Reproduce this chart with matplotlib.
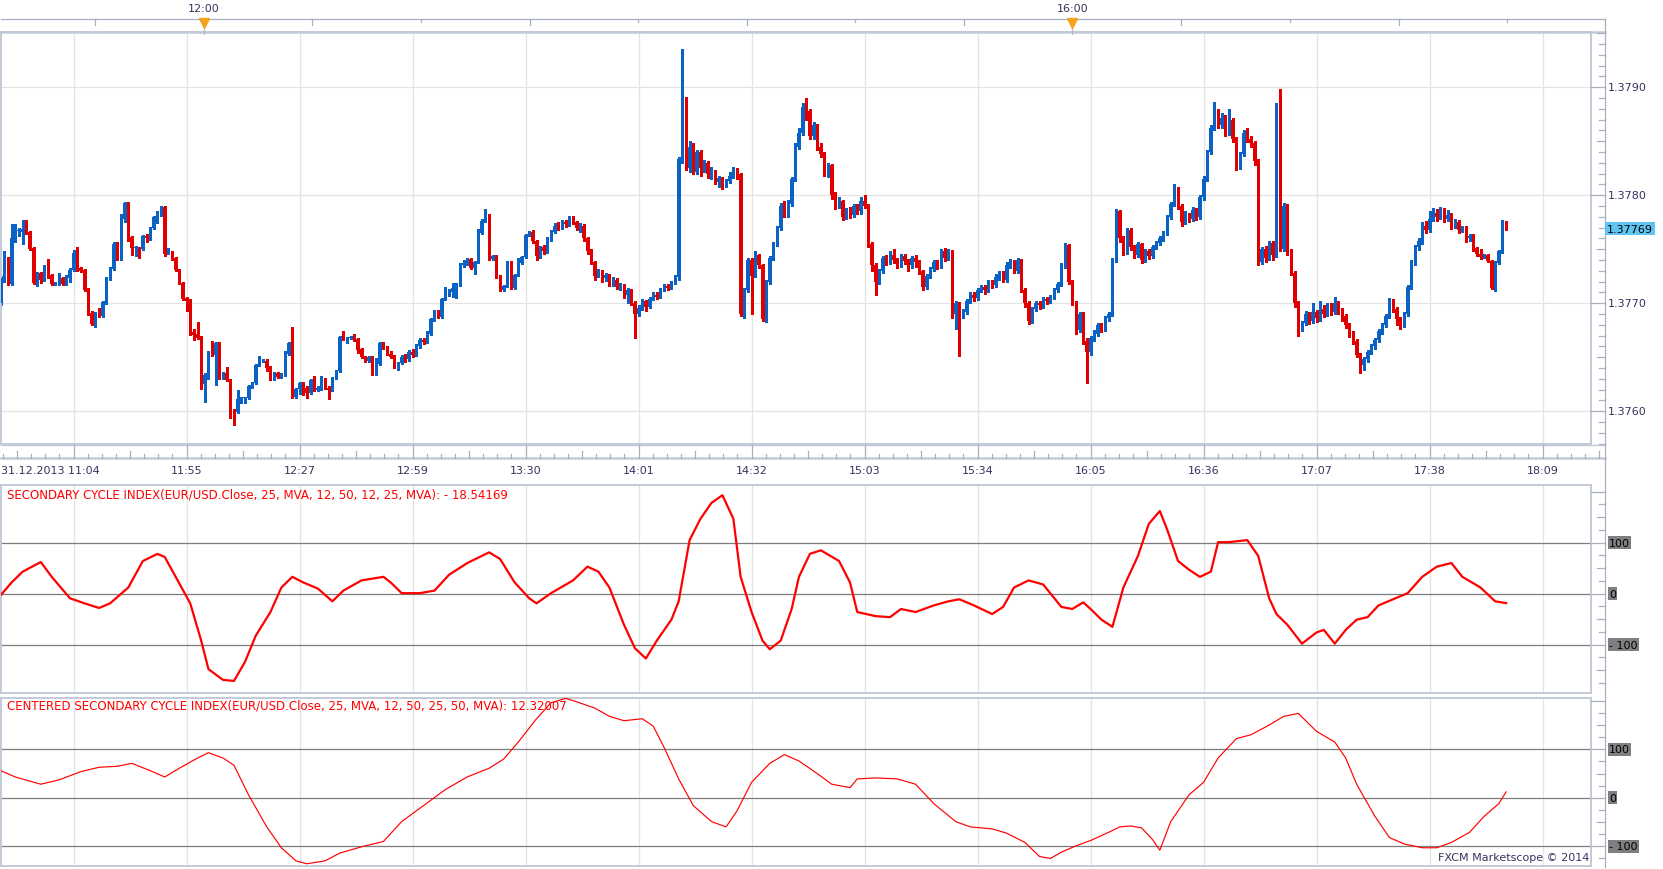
"""EUR/USD 1-minute candles with two cycle-index panels (Marketscope style)."""
import numpy as np
import matplotlib
matplotlib.use("Agg")
import matplotlib.pyplot as plt
from matplotlib.transforms import blended_transform_factory

# ---- data: prices in 1e-5 steps above 1.37000 ----
open_pts = [
    700, 722, 742, 718, 760, 767, 766, 769, 766, 751, 719, 728, 722, 733, 726, 718, 718, 723, 718, 723,
    731, 747, 733, 731, 713, 691, 681, 691, 688, 700, 723, 732, 755, 741, 778, 793, 761, 751, 751, 750,
    762, 760, 770, 779, 782, 789, 747, 747, 742, 731, 719, 705, 703, 673, 672, 669, 625, 634, 655, 652,
    663, 631, 635, 629, 600, 599, 611, 612, 612, 623, 626, 643, 647, 647, 641, 630, 635, 632, 634, 653,
    663, 613, 621, 626, 622, 617, 629, 620, 621, 630, 622, 620, 631, 637, 669, 667, 668, 669, 667, 658,
    650, 647, 650, 635, 644, 663, 659, 653, 651, 641, 645, 650, 648, 655, 652, 660, 666, 664, 672, 685,
    693, 687, 704, 708, 710, 713, 717, 735, 736, 741, 733, 738, 765, 776, 782, 741, 744, 725, 712, 716,
    738, 714, 726, 737, 743, 763, 766, 758, 744, 752, 748, 760, 766, 772, 770, 775, 773, 778, 775, 770,
    772, 760, 748, 738, 725, 730, 723, 726, 718, 722, 715, 717, 708, 712, 700, 690, 696, 702, 697, 704,
    708, 706, 712, 716, 714, 719, 724, 834, 890, 825, 845, 822, 840, 825, 830, 820, 822, 812, 816, 810,
    813, 818, 824, 820, 690, 712, 740, 725, 745, 735, 685, 720, 742, 755, 770, 790, 782, 792, 815, 845,
    858, 882, 878, 855, 865, 845, 838, 820, 828, 800, 790, 795, 780, 786, 782, 790, 785, 795, 790, 755,
    735, 720, 730, 742, 738, 745, 740, 736, 744, 739, 735, 742, 738, 730, 715, 725, 732, 738, 735, 748,
    742, 748, 690, 700, 690, 692, 702, 708, 705, 712, 715, 712, 720, 717, 724, 728, 722, 735, 738, 730,
    740, 712, 700, 684, 695, 700, 698, 704, 702, 706, 712, 718, 735, 754, 720, 700, 675, 690, 665, 655,
    668, 672, 680, 676, 686, 690, 740, 785, 760, 748, 768, 752, 745, 755, 740, 748, 744, 752, 756, 760,
    765, 780, 792, 806, 790, 775, 782, 778, 786, 780, 798, 815, 840, 862, 878, 865, 872, 858, 870, 852,
    826, 838, 858, 852, 848, 832, 738, 750, 742, 756, 745, 880, 750, 790, 748, 728, 700, 676, 682, 690,
    684, 692, 686, 695, 690, 698, 692, 700, 694, 688, 680, 672, 665, 652, 643, 648, 655, 660, 666, 674,
    680, 688, 702, 695, 685, 680, 690, 715, 738, 752, 758, 772, 768, 778, 784, 780, 786, 778, 782, 772,
    775, 768, 770, 760, 762, 751, 746, 743, 745, 739, 713, 737, 748, 775,
]
close_pts = [
    723, 742, 718, 760, 767, 768, 769, 765, 750, 719, 728, 722, 733, 725, 718, 719, 723, 718, 725, 731,
    747, 731, 730, 712, 690, 681, 691, 688, 701, 723, 733, 755, 741, 779, 793, 761, 751, 752, 749, 762,
    760, 770, 780, 782, 789, 746, 748, 741, 731, 719, 704, 702, 672, 671, 668, 625, 634, 655, 652, 663,
    631, 635, 629, 599, 599, 611, 612, 612, 623, 626, 643, 647, 647, 640, 630, 635, 632, 634, 654, 663,
    613, 621, 626, 620, 617, 629, 620, 622, 630, 622, 620, 631, 637, 669, 667, 668, 669, 666, 657, 650,
    647, 650, 635, 644, 663, 659, 653, 650, 641, 645, 650, 648, 655, 652, 660, 666, 664, 672, 685, 693,
    687, 704, 709, 712, 714, 718, 736, 737, 741, 733, 738, 765, 776, 782, 741, 744, 724, 712, 716, 738,
    714, 726, 737, 743, 763, 766, 758, 744, 752, 748, 760, 766, 772, 770, 775, 773, 778, 775, 770, 772,
    760, 748, 738, 725, 730, 723, 726, 718, 722, 715, 717, 708, 712, 700, 690, 696, 702, 697, 704, 708,
    706, 712, 716, 714, 719, 724, 834, 888, 825, 845, 822, 840, 825, 830, 820, 822, 812, 816, 810, 813,
    818, 824, 820, 690, 712, 740, 725, 745, 735, 685, 720, 742, 755, 770, 790, 782, 792, 815, 845, 858,
    882, 878, 855, 865, 845, 838, 820, 828, 800, 790, 795, 780, 786, 782, 790, 785, 795, 790, 755, 735,
    720, 730, 742, 738, 745, 740, 736, 744, 739, 735, 742, 738, 730, 715, 725, 732, 738, 735, 748, 742,
    748, 690, 700, 690, 692, 702, 708, 705, 712, 715, 712, 720, 717, 724, 728, 722, 735, 738, 730, 740,
    712, 700, 684, 695, 700, 698, 704, 702, 706, 712, 718, 735, 754, 720, 700, 675, 690, 665, 655, 668,
    672, 680, 676, 686, 690, 740, 785, 760, 748, 768, 752, 745, 755, 740, 748, 744, 752, 756, 760, 765,
    780, 792, 806, 790, 775, 782, 778, 786, 780, 798, 815, 840, 862, 878, 865, 872, 858, 870, 852, 826,
    838, 858, 852, 848, 832, 738, 750, 742, 756, 745, 880, 750, 790, 748, 728, 700, 676, 682, 690, 684,
    692, 686, 695, 690, 698, 692, 700, 694, 688, 680, 672, 665, 652, 643, 648, 655, 660, 666, 674, 680,
    688, 702, 695, 685, 680, 690, 715, 738, 752, 758, 772, 768, 778, 784, 780, 786, 778, 782, 772, 775,
    768, 770, 760, 762, 751, 746, 743, 745, 739, 714, 738, 748, 775, 769,
]
high_pts = [
    725, 748, 743, 773, 773, 770, 777, 777, 767, 752, 729, 729, 735, 741, 727, 720, 728, 724, 726, 733,
    749, 752, 734, 732, 714, 693, 692, 696, 702, 724, 734, 757, 757, 783, 794, 794, 762, 753, 752, 763,
    764, 771, 781, 785, 790, 790, 751, 748, 743, 732, 720, 706, 704, 676, 683, 670, 635, 656, 665, 664,
    664, 636, 641, 630, 602, 620, 613, 613, 624, 627, 644, 651, 648, 648, 642, 636, 636, 635, 656, 664,
    678, 622, 627, 627, 623, 630, 633, 623, 633, 631, 623, 632, 638, 670, 674, 669, 670, 672, 668, 659,
    651, 651, 651, 649, 664, 664, 660, 656, 652, 646, 652, 653, 657, 658, 662, 668, 668, 674, 686, 694,
    694, 705, 715, 713, 719, 719, 737, 740, 742, 742, 739, 769, 778, 787, 783, 745, 745, 726, 717, 739,
    739, 727, 742, 744, 764, 767, 768, 759, 753, 754, 761, 768, 774, 775, 777, 777, 781, 781, 776, 774,
    773, 761, 750, 739, 732, 731, 728, 727, 724, 723, 719, 718, 714, 713, 702, 698, 704, 703, 706, 710,
    710, 714, 718, 718, 721, 726, 835, 935, 891, 850, 848, 842, 842, 833, 832, 826, 823, 818, 817, 815,
    822, 826, 825, 821, 714, 742, 742, 748, 746, 736, 722, 744, 757, 772, 793, 795, 796, 817, 848, 862,
    885, 890, 880, 868, 866, 848, 840, 830, 829, 803, 798, 796, 788, 789, 792, 792, 798, 800, 792, 757,
    737, 732, 744, 745, 748, 750, 742, 746, 746, 741, 744, 745, 740, 731, 727, 734, 740, 740, 750, 751,
    750, 749, 702, 701, 695, 704, 710, 710, 714, 717, 717, 722, 722, 727, 730, 730, 738, 741, 740, 742,
    741, 714, 702, 697, 702, 702, 706, 706, 708, 714, 720, 737, 756, 755, 722, 702, 692, 692, 668, 670,
    675, 682, 682, 688, 692, 742, 787, 786, 762, 770, 770, 754, 757, 756, 750, 750, 754, 758, 762, 767,
    782, 794, 810, 808, 792, 785, 784, 789, 788, 800, 818, 842, 865, 886, 880, 876, 874, 880, 872, 854,
    840, 860, 862, 855, 850, 834, 752, 753, 758, 758, 885, 898, 793, 792, 750, 730, 702, 684, 693, 692,
    700, 694, 702, 698, 700, 700, 706, 702, 696, 690, 682, 674, 667, 654, 650, 657, 662, 668, 676, 682,
    690, 705, 704, 697, 687, 692, 717, 740, 754, 760, 775, 776, 785, 788, 787, 789, 788, 786, 784, 778,
    777, 772, 772, 764, 764, 752, 750, 746, 746, 740, 739, 749, 777, 776,
]
low_pts = [
    698, 720, 717, 717, 757, 762, 755, 764, 749, 718, 716, 719, 721, 723, 717, 717, 717, 717, 717, 720,
    730, 730, 729, 711, 689, 680, 678, 687, 687, 699, 722, 731, 740, 740, 775, 758, 745, 744, 742, 749,
    757, 759, 769, 774, 781, 744, 746, 740, 730, 718, 703, 693, 671, 666, 667, 621, 609, 630, 651, 624,
    630, 630, 628, 594, 587, 598, 608, 608, 611, 622, 625, 642, 646, 637, 629, 629, 631, 631, 633, 652,
    612, 612, 616, 615, 612, 616, 619, 619, 620, 621, 611, 619, 630, 636, 666, 663, 667, 665, 654, 649,
    646, 646, 634, 634, 643, 658, 652, 649, 640, 638, 644, 646, 647, 650, 651, 659, 662, 663, 671, 684,
    686, 686, 703, 707, 706, 705, 716, 734, 735, 732, 727, 737, 764, 775, 740, 740, 723, 711, 711, 715,
    713, 713, 725, 736, 742, 762, 756, 740, 742, 746, 747, 758, 765, 768, 769, 771, 772, 773, 768, 766,
    758, 746, 736, 722, 724, 720, 721, 716, 716, 713, 712, 705, 700, 698, 668, 688, 694, 693, 696, 703,
    704, 705, 711, 712, 713, 718, 722, 830, 823, 822, 820, 820, 818, 822, 816, 815, 810, 808, 806, 808,
    811, 816, 815, 688, 686, 710, 690, 724, 733, 684, 683, 718, 740, 753, 768, 780, 780, 790, 813, 843,
    856, 870, 852, 852, 842, 835, 818, 817, 797, 787, 788, 777, 778, 779, 780, 783, 783, 788, 752, 730,
    708, 718, 728, 735, 736, 737, 733, 734, 736, 730, 733, 734, 727, 712, 713, 723, 730, 732, 733, 739,
    740, 686, 676, 651, 686, 690, 700, 702, 703, 710, 709, 710, 714, 715, 722, 720, 720, 733, 728, 728,
    710, 697, 681, 682, 693, 695, 696, 699, 700, 704, 710, 716, 733, 718, 698, 672, 673, 662, 626, 652,
    665, 670, 673, 674, 684, 688, 738, 757, 745, 746, 749, 742, 743, 737, 738, 741, 742, 750, 754, 758,
    763, 778, 790, 787, 772, 773, 775, 776, 777, 778, 796, 813, 838, 860, 862, 862, 855, 856, 849, 823,
    824, 836, 849, 845, 828, 735, 736, 738, 740, 740, 743, 748, 748, 745, 726, 697, 670, 674, 680, 681,
    682, 683, 684, 687, 688, 689, 690, 690, 684, 677, 669, 662, 650, 635, 638, 646, 653, 658, 664, 672,
    678, 686, 692, 680, 676, 678, 688, 713, 735, 749, 755, 765, 766, 776, 776, 778, 775, 776, 769, 770,
    765, 766, 757, 758, 748, 744, 741, 742, 738, 713, 711, 736, 747, 768,
]

# secondary cycle index (thick line), sampled by candle index
sci_idx = [0, 3, 6, 11, 14, 19, 23, 27, 30, 35, 39, 43, 45, 48, 52, 55, 57, 61, 64, 67, 70, 74, 77, 80, 83,
           87, 91, 94, 99, 105, 107, 110, 115, 119, 123, 128, 134, 137, 141, 145, 147, 151, 157, 161, 164,
           167, 171, 174, 177, 180, 184, 186, 189, 192, 195, 198, 201, 203, 206, 209, 211, 214, 217, 219,
           222, 225, 230, 233, 235, 240, 244, 247, 251, 256, 260, 263, 267, 272, 275, 278, 282, 286, 291,
           294, 297, 299, 302, 305, 308, 312, 315, 318, 320, 323, 326, 329, 332, 334, 337, 342, 345, 348,
           350, 353, 357, 361, 363, 366, 369, 372, 375, 378, 382, 386, 390, 394, 398, 401, 406, 410, 413]
sci_val = [-3, 22, 43, 62, 33, -9, -19, -28, -19, 12, 64, 78, 72, 33, -19, -92, -148, -169, -171, -134,
           -82, -36, 12, 33, 22, 10, -15, 6, 26, 33, 22, 1, 1, 6, 37, 60, 81, 68, 22, -9, -19, 1, 26, 53,
           43, 12, -61, -107, -127, -92, -51, -15, 105, 147, 178, 193, 147, 33, -36, -92, -109, -92, -30,
           33, 78, 85, 64, 22, -36, -44, -46, -30, -36, -23, -15, -11, -23, -40, -26, 12, 26, 18, -26,
           -30, -17, -30, -51, -65, 12, 74, 137, 162, 126, 64, 47, 33, 43, 101, 101, 105, 74, -9, -40,
           -61, -98, -76, -71, -98, -71, -51, -46, -23, -11, 1, 33, 53, 60, 33, 12, -15, -18.54169]

# centered secondary cycle index (thin line)
csci_idx = [0, 4, 11, 16, 22, 27, 32, 36, 41, 45, 49, 54, 57, 61, 64, 68, 73, 77, 81, 84, 89, 93, 99, 105,
            110, 116, 122, 128, 134, 138, 142, 147, 151, 155, 158, 163, 167, 171, 176, 179, 182, 186, 190,
            195, 199, 202, 206, 211, 215, 219, 224, 228, 233, 235, 240, 246, 251, 256, 262, 266, 272, 276,
            281, 285, 288, 291, 295, 299, 304, 307, 310, 313, 316, 318, 321, 326, 330, 334, 339, 343, 348,
            352, 356, 361, 366, 369, 372, 377, 381, 385, 390, 394, 398, 403, 407, 411, 413]
csci_val = [56, 43, 28, 37, 54, 63, 65, 71, 56, 43, 61, 82, 93, 82, 67, 6, -60, -103, -130, -136, -130,
            -114, -101, -90, -49, -16, 17, 43, 61, 80, 115, 163, 196, 205, 198, 185, 168, 159, 163, 148,
            104, 39, -16, -49, -60, -27, 32, 71, 89, 76, 50, 28, 21, 39, 41, 39, 28, -12, -49, -60, -64,
            -73, -92, -121, -125, -112, -99, -88, -71, -60, -58, -62, -86, -108, -49, 6, 32, 82, 122, 130,
            150, 168, 174, 137, 115, 82, 28, -38, -82, -95, -103, -103, -92, -71, -38, -12, 12.32007]

time_labels = ["31.12.2013 11:04", "11:55", "12:27", "12:59", "13:30", "14:01", "14:32",
               "15:03", "15:34", "16:05", "16:36", "17:07", "17:38", "18:09"]
time_label_idx = [20, 51, 82, 113, 144, 175, 206, 237, 268, 299, 330, 361, 392, 423]
session_labels = ["12:00", "16:00"]
session_idx = [55.7, 294.0]
price_ticks = [1.3760, 1.3770, 1.3780, 1.3790]
last_price = 1.37769

sci_title = "SECONDARY CYCLE INDEX(EUR/USD.Close, 25, MVA, 12, 50, 12, 25, MVA): - 18.54169"
csci_title = "CENTERED SECONDARY CYCLE INDEX(EUR/USD.Close, 25, MVA, 12, 50, 25, 50, MVA): 12.32007"

# ---- style ----
W, H = 1663, 870
BLUE = "#0a62c4"
RED = "#e00000"
GRID = "#e3e3e3"
BORDER = "#c3cad7"
RULER = "#a8b0c0"
NAVY = "#34345f"
FS = 8

plt.rcParams["font.family"] = ["DejaVu Sans"]

fig = plt.figure(figsize=(W / 100, H / 100), dpi=100)
fig.patch.set_facecolor("white")


def px_axes(left, top, right, bottom):
    return fig.add_axes([left / W, 1 - bottom / H, (right - left) / W, (bottom - top) / H])


ax_main = px_axes(1, 33, 1591, 445)
ax_sci = px_axes(1, 486, 1591, 694)
ax_csci = px_axes(1, 699, 1591, 867)
XLIM = ((1 - 0.7) / 3.645, (1591 - 0.7) / 3.645)
MAIN_YLIM = (1.375697, 1.379512)
SCI_YLIM = (-194.7, 213)
CSCI_YLIM = (-140.6, 205.8)

for ax in (ax_main, ax_sci, ax_csci):
    ax.set_xlim(*XLIM)
    ax.set_xticks([])
    ax.set_yticks([])
    for s in ax.spines.values():
        s.set_color(BORDER)
        s.set_linewidth(1.4)
    for i in time_label_idx:
        ax.axvline(i, color=GRID, lw=0.9, zorder=0)

# ---- candles ----
idx = np.arange(len(close_pts))
o = 1.37 + np.array(open_pts) / 1e5
c = 1.37 + np.array(close_pts) / 1e5
hi = 1.37 + np.array(high_pts) / 1e5
lo = 1.37 + np.array(low_pts) / 1e5
cols = np.where(c >= o, BLUE, RED)

ax_main.set_ylim(*MAIN_YLIM)
for p in price_ticks:
    ax_main.axhline(p, color=GRID, lw=0.9, zorder=0)
ax_main.vlines(idx, lo, hi, colors=cols, lw=0.75, zorder=2, antialiased=False)
body_low = np.minimum(o, c)
body_h = np.maximum(np.abs(c - o), 0.000011)
ax_main.bar(idx, body_h, bottom=body_low, width=0.8, color=cols, linewidth=0, zorder=3)

# ---- indicator panels ----
ax_sci.set_ylim(*SCI_YLIM)
ax_csci.set_ylim(*CSCI_YLIM)
for ax in (ax_sci, ax_csci):
    for v in (-100, 0, 100):
        ax.axhline(v, color="#7c7c7c", lw=0.9, zorder=1)
ax_sci.plot(sci_idx, sci_val, color="#ff0000", lw=1.6, zorder=3)
ax_csci.plot(csci_idx, csci_val, color="#ff0000", lw=0.85, zorder=3)
ax_sci.text(0.004, 0.955, sci_title, transform=ax_sci.transAxes, color="#ff0000",
            fontsize=8.5, va="center", ha="left")
ax_csci.text(0.004, 0.96, csci_title, transform=ax_csci.transAxes, color="#ff0000",
             fontsize=8.5, va="center", ha="left", zorder=4)
ax_csci.text(0.999, 0.055, "FXCM Marketscope \u00a9 2014", transform=ax_csci.transAxes,
             color=NAVY, fontsize=FS, va="center", ha="right")

# ---- overlay for rulers and right axis ----
ov = fig.add_axes([0, 0, 1, 1], zorder=5)
ov.set_xlim(0, W)
ov.set_ylim(H, 0)
ov.axis("off")
tx_idx = blended_transform_factory(ax_main.transData, ov.transData)

# top session ruler
ov.plot([1, 1605], [20, 20], color=RULER, lw=0.9)
ov.plot([1, 1605], [33, 33], color=BORDER, lw=1.8)
half_hours = np.arange(session_idx[0] - 29.8, 440, 29.8)
for k, t in enumerate(half_hours):
    if any(abs(t - s) < 1 for s in session_idx):
        continue
    ln = 6 if k % 2 == 0 else 3
    ov.plot([t, t], [20, 20 + ln], color=RULER, lw=0.9, transform=tx_idx)
for lab, t in zip(session_labels, session_idx):
    ov.plot([t, t], [27, 35], color="#b8b8b8", lw=0.8, transform=tx_idx)
    ov.plot([t], [23.5], marker="v", ms=6.5, color="#f5a21c", mec="#f5a21c", transform=tx_idx)
    ov.text(t, 9, lab, transform=tx_idx, color=NAVY, fontsize=FS, ha="center", va="center")

# bottom time ruler
ov.plot([1, 1605], [446, 446], color=BORDER, lw=1.0)
ov.plot([1, 1605], [459, 459], color=BORDER, lw=1.8)
minor = np.arange(time_label_idx[0] - 31, 441, 31 / 8)
for k, t in enumerate(minor):
    if t < XLIM[0]:
        continue
    if k % 8 == 0:
        ln = 13
    elif k % 4 == 0:
        ln = 7
    else:
        ln = 4
    ov.plot([t, t], [459, 459 - ln], color=RULER, lw=0.9, transform=tx_idx)
for lab, t in zip(time_labels, time_label_idx):
    if t == time_label_idx[0]:
        ov.text(1, 471, lab, color=NAVY, fontsize=FS, ha="left", va="center")
    else:
        ov.text(t, 471, lab, transform=tx_idx, color=NAVY, fontsize=FS, ha="center", va="center")

# right value axis
ov.plot([1605, 1605], [20, 868], color=RULER, lw=0.9)
tx_price = blended_transform_factory(ov.transData, ax_main.transData)
for step in range(1, 40):
    p = round(1.3756 + step * 0.0001, 4)
    if not (MAIN_YLIM[0] < p < MAIN_YLIM[1]):
        continue
    if step % 10 == 4:
        x0 = 1591
    elif step % 5 == 4:
        x0 = 1597
    else:
        x0 = 1599
    ov.plot([x0, 1605], [p, p], color=RULER, lw=0.9, transform=tx_price)
for p in price_ticks:
    ov.text(1608, p, f"{p:.4f}", transform=tx_price, color=NAVY, fontsize=FS, va="center", ha="left")
ov.text(1607, last_price, f"{last_price:.5f}", transform=tx_price, color="black", fontsize=FS,
        va="center", ha="left",
        bbox=dict(boxstyle="square,pad=0.15", fc="#5ec5f2", ec="none"))

for ax, lim in ((ax_sci, SCI_YLIM), (ax_csci, CSCI_YLIM)):
    tx = blended_transform_factory(ov.transData, ax.transData)
    for v in range(-175, 201, 25):
        if not (lim[0] < v < lim[1]):
            continue
        x0 = 1591 if v % 100 == 0 else (1597 if v % 50 == 0 else 1599)
        ov.plot([x0, 1605], [v, v], color=RULER, lw=0.9, transform=tx)
    for v, lab in ((100, "100"), (0, "0"), (-100, "- 100")):
        ov.text(1609, v, lab, transform=tx, color="black", fontsize=FS, va="center", ha="left",
                bbox=dict(boxstyle="square,pad=0.12", fc="#7f7f7f", ec="none"))

fig.savefig("out.png", dpi=100)
